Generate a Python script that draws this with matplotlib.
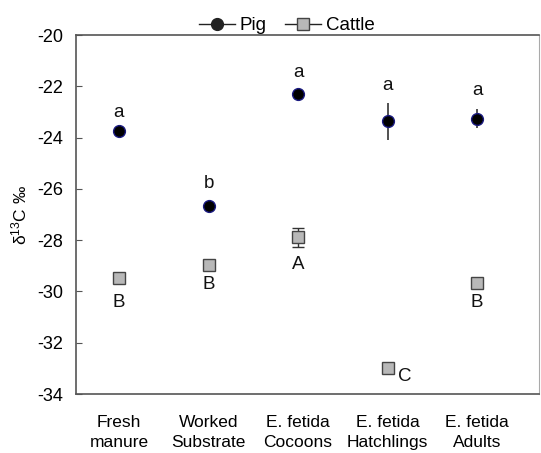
import matplotlib
matplotlib.use("Agg")
import matplotlib.pyplot as plt
from matplotlib.lines import Line2D

plt.rcParams['font.family'] = ['Liberation Sans', 'DejaVu Sans']

categories = ["Fresh\nmanure", "Worked\nSubstrate", "E. fetida\nCocoons", "E. fetida\nHatchlings", "E. fetida\nAdults"]
pig = [-23.73, -26.67, -22.30, -23.37, -23.26]
pig_err = [0.1, 0.1, 0.1, 0.72, 0.37]
cattle = [-29.49, -28.97, -27.89, -32.98, -29.66]
cattle_err = [0.1, 0.1, 0.38, 0.1, 0.1]
pig_letters = ["a", "b", "a", "a", "a"]
cattle_letters = ["B", "B", "A", "C", "B"]
yticks = [-34, -32, -30, -28, -26, -24, -22, -20]

# layout offsets for letters (pixels)
pig_off = [(0, 18), (0, 23), (0, 21), (0, 36), (0, 28)]
cattle_off = [(0, -24), (0, -19), (0, -27), (17, -9), (0, -20)]

fig = plt.figure(figsize=(5.41, 4.53), dpi=100)
ax = fig.add_axes([0.1405, 0.1302, 0.8558, 0.7925])

x = list(range(1, len(categories) + 1))
ax.errorbar(x, cattle, yerr=cattle_err, fmt='s', color='#555555', ecolor='#333333',
            markerfacecolor='#b8b8b8', markeredgecolor='#444444', markersize=8.5,
            markeredgewidth=1.0, capsize=4, elinewidth=1.0, zorder=3)
ax.errorbar(x, pig, yerr=pig_err, fmt='o', color='black', ecolor='#333333',
            markerfacecolor='black', markeredgecolor='#1a1a80', markersize=8.5,
            markeredgewidth=1.0, capsize=0, elinewidth=1.2, zorder=4)

for xi, v, t, o in zip(x, pig, pig_letters, pig_off):
    ax.annotate(t, (xi, v), xytext=o, textcoords='offset pixels', ha='center', va='center',
                fontsize=13.5, color='#111111')
for xi, v, t, o in zip(x, cattle, cattle_letters, cattle_off):
    ax.annotate(t, (xi, v), xytext=o, textcoords='offset pixels', ha='center', va='center',
                fontsize=13.5, color='#111111')

ax.set_xlim(0.52, 5.69)
ax.set_ylim(-34, -20)
ax.set_yticks(yticks)
ax.set_yticklabels([str(t) for t in yticks])
ax.set_xticks(x)
ax.set_xticklabels(categories, linespacing=1.45)
ax.tick_params(axis='y', direction='in', length=4, labelsize=13, pad=9, color='#555555')
ax.tick_params(axis='x', length=0, labelsize=12.5, pad=15)
for s in ['left', 'bottom', 'top']:
    ax.spines[s].set_color('#555555')
    ax.spines[s].set_linewidth(1.2)
ax.spines['right'].set_color('#aaaaaa')
ax.spines['right'].set_linewidth(0.8)

ax.set_ylabel(r'$\mathregular{\delta^{13}C}$ ‰', fontsize=12.5, labelpad=6)

handles = [
    Line2D([0], [0], color='#222222', lw=1.0, marker='o', markersize=8.5,
           markerfacecolor='#222222', markeredgecolor='#222222'),
    Line2D([0], [0], color='#222222', lw=1.0, marker='s', markersize=8,
           markerfacecolor='#b8b8b8', markeredgecolor='#444444'),
]
fig.legend(handles, ['Pig', 'Cattle'], loc='center', bbox_to_anchor=(0.53, 0.943),
           ncol=2, frameon=False, fontsize=13.5, handlelength=1.9, columnspacing=1.0,
           handletextpad=0.25, borderaxespad=0)

fig.savefig('out.png', dpi=100)
